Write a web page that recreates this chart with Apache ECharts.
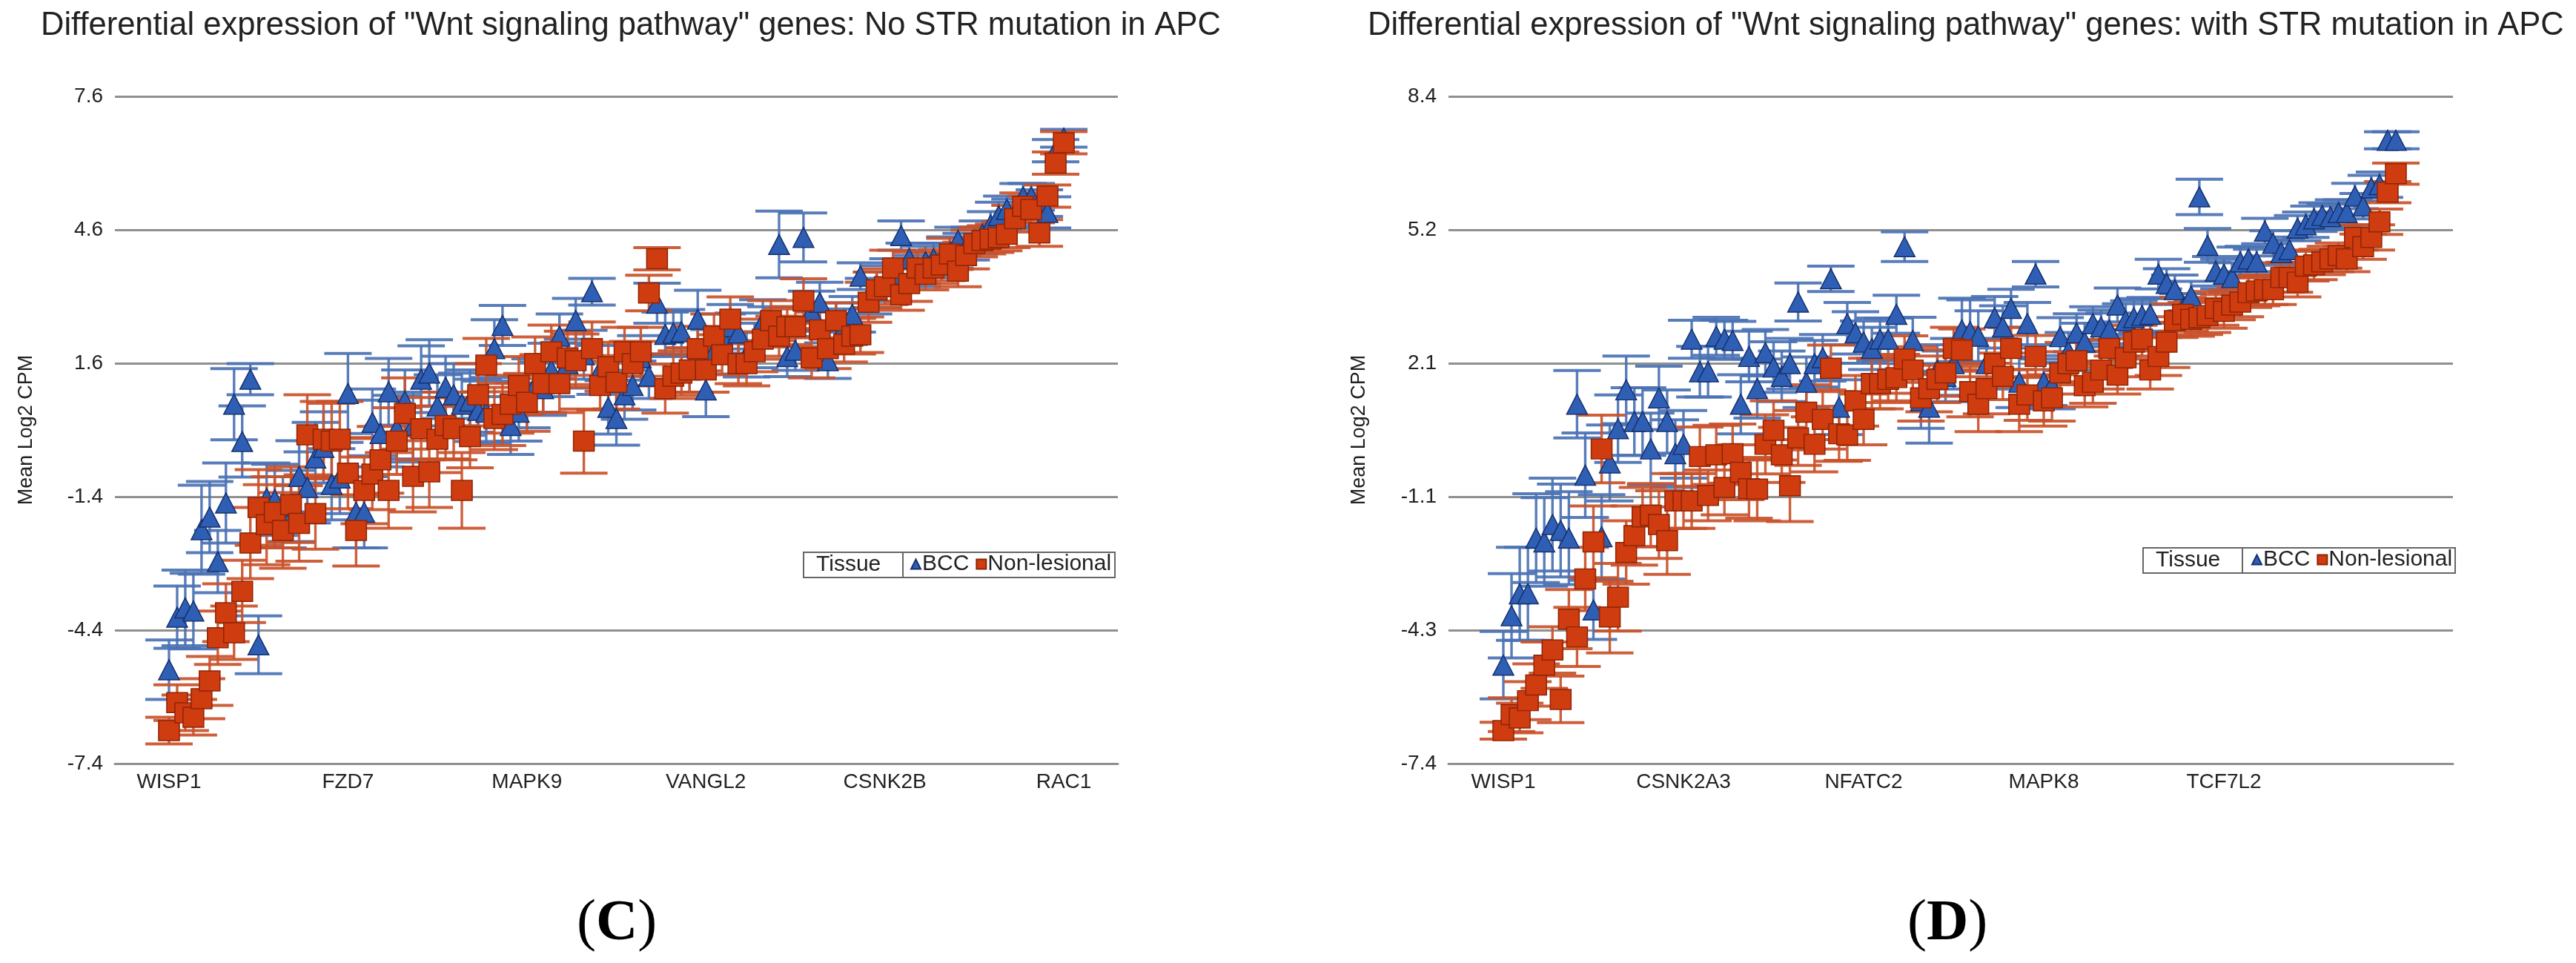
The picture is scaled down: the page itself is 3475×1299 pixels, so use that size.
<!DOCTYPE html>
<html><head><meta charset="utf-8">
<style>html,body{margin:0;padding:0;background:#fff}#c{width:3475px;height:1299px}</style>
<script src="https://cdn.jsdelivr.net/npm/echarts@6/dist/echarts.min.js"></script>
</head><body><div id="c"></div>
<script>
const titleC='Differential expression of "Wnt signaling pathway" genes: No STR mutation in APC';
const titleD='Differential expression of "Wnt signaling pathway" genes: with STR mutation in APC';
const geneIndexC=[0,22,44,66,88,110];
const geneNamesC=['WISP1','FZD7','MAPK9','VANGL2','CSNK2B','RAC1'];
const geneIndexD=[0,22,44,66,88];
const geneNamesD=['WISP1','CSNK2A3','NFATC2','MAPK8','TCF7L2'];
const yTicksC=[-7.4,-4.4,-1.4,1.6,4.6,7.6];
const yLabelsC=['-7.4','-4.4','-1.4','1.6','4.6','7.6'];
const yTicksD=[-7.4,-4.24,-1.08,2.08,5.24,8.4];
const yLabelsD=['-7.4','-4.3','-1.1','2.1','5.2','8.4'];

const bccC=[-5.29,-4.11,-3.9,-3.97,-2.14,-1.86,-2.86,-1.54,0.68,-0.16,
1.24,-4.73,-1.44,-1.47,-1.75,-1.61,-0.94,-1.19,-0.53,-0.29,
-1.12,-0.98,0.92,-1.75,-1.75,0.27,0.02,0.96,0.13,0.75,
0.2,1.24,1.38,0.64,1.06,0.89,0.68,0.75,0.54,0.5,
1.93,2.45,0.2,0.5,0.75,1.1,1.03,1.45,2.21,1.59,
2.56,1.79,3.21,1.45,0.61,0.36,0.89,1.1,1.72,1.31,
2.95,2.25,2.28,2.31,1.45,2.59,1.0,1.86,2.21,2.42,
2.28,1.79,2.0,2.53,2.42,4.27,1.75,1.89,4.43,2.77,
2.97,1.66,2.56,2.42,2.7,3.56,3.11,3.25,3.39,3.6,
4.47,3.95,3.67,3.88,3.95,3.95,4.09,4.36,4.22,4.36,
4.5,4.71,4.92,5.06,4.99,5.34,5.34,5.2,4.99,6.38,
6.66];
const bccErrC=[.67,.7,.85,.85,1.0,.8,.7,.9,.8,.8,
.35,.65,.8,.8,.8,.8,.8,.8,.8,.8,
.8,.8,.9,.8,.8,.75,.75,.75,.75,.7,
.75,.75,.75,.7,.7,.7,.7,.7,.7,.7,
.65,.45,.65,.65,.6,.6,.6,.6,.5,.55,
.5,.55,.3,.55,.6,.6,.55,.55,.5,.5,
.45,.5,.5,.5,.5,.65,.6,.5,.5,.5,
.45,.5,.5,.5,.45,.75,.45,.45,.55,.45,
.45,.4,.4,.4,.4,.3,.4,.4,.4,.35,
.33,.35,.35,.35,.35,.35,.35,.3,.3,.3,
.3,.3,.3,.3,.3,.3,.3,.3,.35,.25,
.2];
const lesionFreeC=[-6.66,-6.03,-6.26,-6.36,-5.94,-5.54,-4.57,-4.01,-4.46,-3.53,
-2.44,-1.64,-2.03,-1.75,-2.16,-1.58,-2.0,-0.01,-1.78,-0.11,
-0.15,-0.11,-0.87,-2.16,-1.26,-0.89,-0.57,-1.26,-0.15,0.47,
-0.94,0.13,-0.84,-0.11,0.2,0.13,-1.26,-0.05,0.89,1.56,
0.36,0.45,0.68,1.1,0.72,1.59,1.14,1.86,1.14,1.72,
1.66,-0.15,1.93,1.1,1.52,1.17,1.86,1.59,1.86,3.18,
3.95,1.03,1.31,1.38,1.45,1.93,1.45,2.21,1.79,2.59,
1.59,1.59,1.86,2.14,2.56,2.21,2.42,2.42,3.0,1.72,
2.35,1.93,2.56,2.03,2.21,2.24,2.97,3.25,3.32,3.74,
3.14,3.39,3.74,3.6,3.74,3.81,4.06,3.67,4.02,4.29,
4.36,4.39,4.43,4.5,4.85,5.13,5.06,4.53,5.36,6.1,
6.56];
const lesionFreeErrC=[.3,.4,.4,.4,.45,.55,.6,.65,.6,.7,
.8,.85,.9,.8,.85,.85,.85,.9,.8,.85,
.85,.85,.8,.8,.75,.8,.75,.85,.75,.8,
.8,.7,.8,.75,.75,.7,.85,.7,.7,.6,
.7,.7,.65,.65,.65,.6,.65,.6,.65,.6,
.6,.72,.6,.55,.55,.6,.55,.5,.55,.4,
.25,.55,.5,.5,.5,.5,.5,.5,.45,.5,
.45,.5,.45,.45,.45,.45,.4,.45,.5,.45,
.4,.45,.4,.4,.4,.4,.45,.4,.4,.4,
.35,.4,.35,.35,.35,.35,.35,.35,.3,.3,
.3,.3,.3,.3,.3,.3,.3,.3,.25,.25,
.25];
const bccD=[-5.07,-3.9,-3.38,-3.38,-2.06,-2.15,-1.74,-1.88,-2.06,1.11,
-0.57,-3.76,-2.03,-0.28,0.53,1.45,0.7,0.7,0.05,1.26,
0.7,-0.06,0.16,2.65,1.88,1.88,2.72,2.65,2.62,1.11,
2.24,1.48,2.33,1.99,1.77,2.07,3.53,1.63,2.07,2.21,
4.08,1.04,3.02,2.8,2.58,2.43,2.65,2.65,3.24,4.84,
2.62,1.19,1.04,1.92,1.77,2.07,2.87,2.83,2.72,2.07,
3.16,2.94,3.38,1.63,3.02,4.19,1.63,1.55,2.71,2.36,
2.8,2.58,3.02,2.94,2.87,3.46,3.09,3.16,3.21,3.24,
4.19,3.97,3.82,3.38,3.67,6.02,4.87,4.26,4.19,4.11,
4.48,4.55,4.48,5.21,4.92,4.7,4.77,5.28,5.36,5.5,
5.58,5.55,5.65,5.65,6.04,5.8,6.23,6.31,7.36,7.36];
const bccErrD=[.8,1.0,1.1,1.1,1.05,1.05,1.1,1.1,1.1,.8,
1.0,.7,1.0,.9,.8,.8,.8,.8,.85,.75,
.75,.8,.8,.45,.6,.6,.45,.45,.45,.7,
.6,.7,.55,.6,.6,.6,.45,.6,.55,.55,
.3,.65,.5,.5,.5,.5,.5,.5,.45,.35,
.55,.65,.85,.6,.6,.6,.75,.75,.6,.6,
.5,.5,.45,.6,.5,.3,.55,.55,.45,.45,
.45,.45,.4,.4,.4,.4,.4,.4,.4,.4,
.35,.35,.35,.35,.35,.42,.4,.35,.35,.35,
.35,.3,.3,.3,.3,.3,.3,.3,.3,.3,
.3,.3,.3,.3,.3,.3,.3,.3,.2,.2];
const lesionFreeD=[-6.62,-6.24,-6.32,-5.91,-5.54,-5.07,-4.71,-5.88,-3.98,-4.4,
-3.03,-2.15,0.05,-3.93,-3.46,-2.4,-2.0,-1.56,-1.52,-1.74,
-2.12,-1.18,-1.18,-1.18,-0.13,-1.05,-0.09,-0.86,-0.06,-0.5,
-0.89,-0.9,0.16,0.49,-0.09,-0.82,0.31,0.92,0.16,0.75,
1.96,0.41,0.38,1.19,0.75,1.6,1.6,1.7,1.74,2.18,
1.92,1.26,1.48,1.7,1.85,2.43,2.39,1.41,1.11,1.48,
2.07,1.77,2.43,1.11,1.33,2.24,1.19,1.26,1.85,2.07,
2.14,1.55,1.63,1.92,2.43,1.8,2.21,2.58,2.65,1.92,
2.24,2.58,3.09,3.24,3.12,3.16,3.21,3.38,3.31,3.46,
3.53,3.75,3.79,3.82,3.82,4.11,4.11,4.0,4.38,4.41,
4.48,4.55,4.63,4.55,5.06,4.84,5.06,5.43,6.13,6.57];
const lesionFreeErrD=[.2,.4,.35,.45,.5,.55,.55,.55,.7,.7,
.75,.85,.8,.85,.8,.75,.7,.7,.75,.8,
.8,.65,.65,.65,.7,.6,.7,.65,.7,.65,
.7,.75,.7,.7,.65,.85,.65,.65,.65,.7,
.55,.65,.6,.6,.6,.6,.6,.55,.55,.55,
.55,.55,.55,.55,.55,.5,.5,.6,.65,.6,
.55,.55,.5,.65,.6,.5,.6,.55,.5,.5,
.5,.5,.5,.45,.45,.45,.45,.4,.4,.45,
.45,.6,.4,.4,.4,.4,.4,.4,.4,.35,
.35,.35,.35,.35,.35,.35,.35,.35,.35,.35,
.3,.3,.3,.3,.3,.3,.3,.3,.25,.25];

const blue='#2f5fb4',blueEdge='#16306e',blueErr='#4a72b4';
const red='#cf3c10',redEdge='#8e2405',redErr='#c9512a';
const grey='#8f8f8f';
const FONT='"Liberation Sans",Arial,sans-serif';

function pts(v){return v.map((y,i)=>[i,y]);}
function errSeries(v,e,color,g){
  return {type:'custom',xAxisIndex:g,yAxisIndex:g,silent:true,z:2,
    data:v.map((y,i)=>[i,y-e[i],y+e[i]]),
    renderItem(p,api){
      const lo=api.coord([api.value(0),api.value(1)]),hi=api.coord([api.value(0),api.value(2)]);
      const hw=32,st={stroke:color,lineWidth:3.4,opacity:.92};
      return {type:'group',children:[
        {type:'line',shape:{x1:lo[0],y1:lo[1],x2:hi[0],y2:hi[1]},style:st},
        {type:'line',shape:{x1:lo[0]-hw,y1:lo[1],x2:lo[0]+hw,y2:lo[1]},style:{...st,lineWidth:4}},
        {type:'line',shape:{x1:hi[0]-hw,y1:hi[1],x2:hi[0]+hw,y2:hi[1]},style:{...st,lineWidth:4}}
      ]};
    }};
}
function markSeries(name,v,sym,size,color,edge,g){
  return {name,type:'scatter',xAxisIndex:g,yAxisIndex:g,symbol:sym,symbolSize:size,z:3,
    data:pts(v),itemStyle:{color,borderColor:edge,borderWidth:1.5,opacity:1}};
}
function xAxis(idx,names,min,max,g){
  return {type:'value',gridIndex:g,min,max,
    axisLine:{show:true,onZero:false,lineStyle:{color:grey,width:3}},
    axisTick:{show:false},splitLine:{show:false},
    axisLabel:{customValues:idx,formatter:v=>names[idx.indexOf(v)]||'',color:'#222',fontFamily:FONT,fontSize:28,margin:11}};
}
function yAxis(vals,labels,min,max,g,gap){
  return {type:'value',gridIndex:g,min,max,name:'Mean Log2 CPM',nameLocation:'middle',nameRotate:90,nameGap:gap,
    nameTextStyle:{color:'#222',fontFamily:FONT,fontSize:27},
    axisLine:{show:false},axisTick:{show:false,customValues:vals},
    splitLine:{show:true,lineStyle:{color:grey,width:3}},
    axisLabel:{customValues:vals,formatter:v=>labels[vals.indexOf(v)]||'',color:'#222',fontFamily:FONT,fontSize:28,margin:16}};
}
function legendBox(x,y,w,h,div){
  return [
    {type:'rect',left:x,top:y,shape:{width:w,height:h},style:{fill:'#fff',stroke:'#666',lineWidth:2},z:50},
    {type:'line',shape:{x1:div,y1:y,x2:div,y2:y+h},style:{stroke:'#666',lineWidth:2},z:51},
    {type:'text',left:x+18,top:y+3,style:{text:'Tissue',font:'30px '+FONT,fill:'#222'},z:52}
  ];
}
function panelLetter(l,x){
  return {type:'text',left:x,top:1208,z:52,style:{
    rich:{p:{fontFamily:'"Liberation Serif",serif',fontSize:78,fill:'#000'},b:{fontFamily:'"Liberation Serif",serif',fontSize:78,fontWeight:'bold',fill:'#000'}},
    text:'{p|(}{b|'+l+'}{p|)}'}};
}
function legendOf(left,top,g){
  return {show:true,left,top,orient:'horizontal',itemWidth:13,itemHeight:13,itemGap:9,padding:0,z:60,
    selectedMode:false,
    textStyle:{fontFamily:FONT,fontSize:30,color:'#222',padding:[0,0,0,-3]},
    data:[{name:'BCC'+g,icon:'triangle'},{name:'Non-lesional'+g,icon:'rect'}],
    formatter:n=>n.slice(0,-1)};
}
const option={
  animation:false,backgroundColor:'#fff',
  title:[
    {text:titleC,left:50,top:8,textStyle:{fontFamily:FONT,fontWeight:'normal',fontSize:43.5,color:'#222'}},
    {text:titleD,left:1840,top:8,textStyle:{fontFamily:FONT,fontWeight:'normal',fontSize:43.5,color:'#222'}}
  ],
  grid:[
    {left:155,top:130,width:1353,height:900},
    {left:1954,top:130,width:1355,height:900}
  ],
  xAxis:[xAxis(geneIndexC,geneNamesC,-6.65,116.65,0),xAxis(geneIndexD,geneNamesD,-6.7,115.97,1)],
  yAxis:[yAxis(yTicksC,yLabelsC,-7.4,7.6,0,106),yAxis(yTicksD,yLabelsD,-7.4,8.4,1,107)],
  legend:[legendOf(1228,746,'C'),legendOf(3037,740,'D')],
  series:[
    errSeries(bccC,bccErrC,blueErr,0),
    markSeries('BCCC',bccC,'triangle',[28,27],blue,blueEdge,0),
    errSeries(lesionFreeC,lesionFreeErrC,redErr,0),
    markSeries('Non-lesionalC',lesionFreeC,'rect',[28,27],red,redEdge,0),
    errSeries(bccD,bccErrD,blueErr,1),
    markSeries('BCCD',bccD,'triangle',[28,27],blue,blueEdge,1),
    errSeries(lesionFreeD,lesionFreeErrD,redErr,1),
    markSeries('Non-lesionalD',lesionFreeD,'rect',[28,27],red,redEdge,1)
  ],
  graphic:[
    ...legendBox(1083,744,420,34,1218),
    ...legendBox(2890,738,421,34,3025),
    panelLetter('C',778),
    panelLetter('D',2573)
  ]
};
const chart=echarts.init(document.getElementById('c'),null,{renderer:'canvas'});
chart.setOption(option);
</script></body></html>
